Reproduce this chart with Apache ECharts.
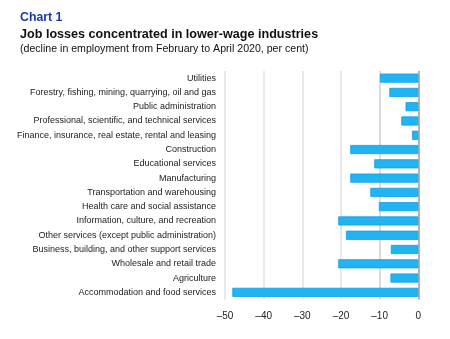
<!DOCTYPE html>
<html>
<head>
<meta charset="utf-8">
<script src="https://cdn.jsdelivr.net/npm/echarts@6/dist/echarts.min.js"></script>
<style>
  html, body { margin: 0; padding: 0; background: #fff; }
  #chart { width: 450px; height: 339px; }
</style>
</head>
<body>
<div id="chart"></div>
<script>
// Industries, top to bottom
const industries = [
  'Utilities',
  'Forestry, fishing, mining, quarrying, oil and gas',
  'Public administration',
  'Professional, scientific, and technical services',
  'Finance, insurance, real estate, rental and leasing',
  'Construction',
  'Educational services',
  'Manufacturing',
  'Transportation and warehousing',
  'Health care and social assistance',
  'Information, culture, and recreation',
  'Other services (except public administration)',
  'Business, building, and other support services',
  'Wholesale and retail trade',
  'Agriculture',
  'Accommodation and food services'
];

// Change in employment, February to April 2020 (%)
const employmentChange = [
  -9.9, -7.5, -3.3, -4.4, -1.6, -17.6, -11.4, -17.6,
  -12.4, -10.2, -20.7, -18.7, -7.1, -20.7, -7.2, -48.1
];

// Horizontal axis range and step
const axisMin = -50;
const axisMax = 0;
const axisStep = 10;

const font = '"Liberation Sans", Arial, sans-serif';

const chart = echarts.init(document.getElementById('chart'), null, { renderer: 'canvas' });

chart.setOption({
  animation: false,
  title: [
    {
      text: 'Chart 1',
      left: 20, top: 11.5, padding: 0,
      textStyle: { fontFamily: font, fontSize: 12.3, fontWeight: 'bold', color: '#1c3aa6' }
    },
    {
      text: 'Job losses concentrated in lower-wage industries',
      left: 20, top: 28, padding: 0,
      textStyle: { fontFamily: font, fontSize: 12.6, fontWeight: 'bold', color: '#111' }
    },
    {
      text: '(decline in employment from February to April 2020, per cent)',
      left: 20, top: 43.5, padding: 0,
      textStyle: { fontFamily: font, fontSize: 10.6, fontWeight: 'normal', color: '#111' }
    }
  ],
  grid: { left: 225, right: 31.7, top: 71, bottom: 39.5, containLabel: false },
  xAxis: {
    type: 'value',
    min: axisMin,
    max: axisMax,
    interval: axisStep,
    axisLine: { show: false },
    axisTick: { show: false },
    axisLabel: {
      margin: 12,
      fontFamily: font,
      fontSize: 10,
      color: '#222',
      formatter: v => (v < 0 ? '\u2013' + Math.abs(v) : String(v))
    },
    splitLine: {
      show: true,
      lineStyle: {
        color: ['#e2e2e2', '#e2e2e2', '#e2e2e2', '#e2e2e2', '#cfcfcf', '#9a9a9a'],
        width: 1.5
      }
    }
  },
  yAxis: {
    type: 'category',
    inverse: true,
    data: industries,
    axisLine: { show: false, onZero: false },
    axisTick: { show: false },
    axisLabel: {
      margin: 9,
      fontFamily: font,
      fontSize: 9,
      color: '#222'
    }
  },
  series: [
    {
      type: 'bar',
      data: employmentChange,
      barCategoryGap: '36%',
      itemStyle: {
        color: '#22b4f2',
        borderColor: '#0ea0e6',
        borderWidth: 0.8
      }
    }
  ]
});
</script>
</body>
</html>
